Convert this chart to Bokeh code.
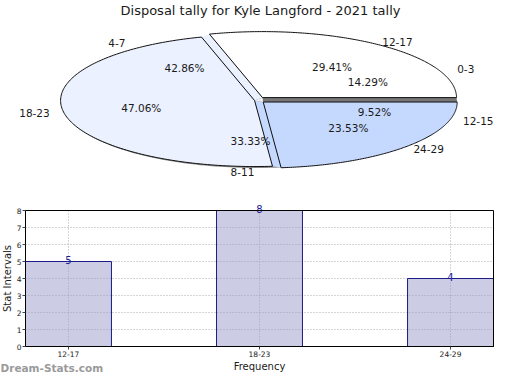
import math
import numpy as np
from bokeh.plotting import figure
from bokeh.models import Range1d, ColumnDataSource, LinearAxis, FixedTicker
from bokeh.embed import file_html
from bokeh.resources import INLINE
from bokeh.core.properties import value

# ---------------- data ----------------
title_text = "Disposal tally for Kyle Langford - 2021 tally"
categories = ["12-17", "18-23", "24-29"]
counts = [5, 8, 4]
second_categories = ["0-3", "4-7", "8-11", "12-15"]
second_counts = [3, 9, 7, 2]
y_tick_values = [0, 1, 2, 3, 4, 5, 6, 7, 8]
x_axis_title = "Frequency"
y_axis_title = "Stat Intervals"
watermark = "Dream-Stats.com"

# ---------------- style / layout ----------------
slice_colors = ["#FFFFFF", "#EBF1FE", "#C5D8FE"]
FONT = "DejaVu Sans"
TXT = "#1a1a1a"
W, H = 504, 374

# pie geometry (page pixels)
CX, CY, RX, RY = 259.0, 99.5, 194.0, 66.0
EX, EY = 5.0, 3.0

# bar-chart box (page pixels)
BOX_L, BOX_R, BOX_T, BOX_B = 25.0, 493.0, 210.0, 346.0
BAR_W = 0.45

p = figure(width=W, height=H, x_range=Range1d(0, W), y_range=Range1d(H, 0),
           x_axis_location=None, y_axis_location=None, toolbar_location=None,
           output_backend="svg", min_border=0)
p.grid.visible = False
p.outline_line_color = None


def angles(vals):
    fr = np.array(vals, dtype=float) / float(sum(vals))
    ends = np.cumsum(fr) * 2 * np.pi
    starts = ends - fr * 2 * np.pi
    return starts, ends, fr


def pt(cx, cy, a):
    return cx + RX * np.cos(a), cy - RY * np.sin(a)


# ---------------- pie ----------------
t = np.linspace(0, 2 * np.pi, 240)
p.patch(CX - 3 + RX * np.cos(t), CY + 2 + RY * np.sin(t), fill_color="#8a8a8a", line_color=None)

starts, ends, fr = angles(counts)
mids = (starts + ends) / 2
centers = [(CX + EX * np.cos(m), CY - EY * np.sin(m)) for m in mids]
n = len(counts)

gx, gy, gc = [], [], []
for k in range(n):
    j = (k - 1) % n
    th = starts[k]
    (xj, yj), (xk, yk) = centers[j], centers[k]
    ax, ay = pt(xj, yj, th)
    bx, by = pt(xk, yk, th)
    gx.append([xj, float(ax), float(bx), xk])
    gy.append([yj, float(ay), float(by), yk])
    gc.append(slice_colors[k] if k > 0 else "#777777")
p.patches(gx, gy, fill_color=gc, line_color=None)
p.patch([c[0] for c in centers], [c[1] for c in centers], fill_color="#EEEEEE", line_color=None)

sx, sy = [], []
for i in range(n):
    a = np.linspace(starts[i], ends[i], 150)
    cx, cy = centers[i]
    px, py = pt(cx, cy, a)
    sx.append([cx] + list(px) + [cx])
    sy.append([cy] + list(py) + [cy])
p.patches(sx, sy, fill_color=slice_colors, line_color="#111111", line_width=1)

lx, ly, lt = [], [], []
for cats, vals in ((categories, counts), (second_categories, second_counts)):
    s, e, f = angles(vals)
    m = (s + e) / 2
    for c, mm, ff in zip(cats, m, f):
        lx.append(CX + 1.18 * RX * math.cos(mm))
        ly.append(CY - 1.1 * RY * math.sin(mm))
        lt.append(c)
        lx.append(CX + 0.62 * RX * math.cos(mm))
        ly.append(CY - 0.62 * RY * math.sin(mm))
        lt.append(f"{100 * ff:.2f}%")
p.text(x="x", y="y", text="text", source=ColumnDataSource(dict(x=lx, y=ly, text=lt)),
       text_font=value(FONT), text_font_size="10.5px", text_align="center",
       text_baseline="middle", text_color=TXT)

p.text(x=[W / 2 + 8], y=[10], text=[title_text], text_font=value(FONT), text_font_size="13px",
       text_align="center", text_baseline="middle", text_color=TXT)

# ---------------- bar chart (own ranges mapped onto the box) ----------------
xpos = list(range(len(categories)))
x_lo, x_hi = xpos[0] - BAR_W / 2, xpos[-1] + BAR_W / 2
ppx = (BOX_R - BOX_L) / (x_hi - x_lo)
y_lo, y_hi = y_tick_values[0], y_tick_values[-1]
ppy = (BOX_B - BOX_T) / (y_hi - y_lo)
p.extra_x_ranges = {"bx": Range1d(x_lo - BOX_L / ppx, x_lo + (W - BOX_L) / ppx)}
p.extra_y_ranges = {"by": Range1d(y_lo - (H - BOX_B) / ppy, y_hi + BOX_T / ppy)}
R = dict(x_range_name="bx", y_range_name="by")

# dotted grid
inner = y_tick_values[1:-1]
p.segment(x0=[x_lo] * len(inner), x1=[x_hi] * len(inner), y0=inner, y1=inner,
          line_color="#aaaaaa", line_dash="1 2", line_width=1, **R)
p.segment(x0=xpos, x1=xpos, y0=[y_lo] * len(xpos), y1=[y_hi] * len(xpos),
          line_color="#aaaaaa", line_dash="1 2", line_width=1, **R)

src = ColumnDataSource(dict(x=xpos, top=counts, label=[str(c) for c in counts]))
p.vbar(x="x", top="top", width=BAR_W, source=src, fill_color="#9999CC", fill_alpha=0.5,
       line_color="#1C1C84", line_width=1, **R)
p.text(x="x", y="top", text="label", source=src, text_align="center", text_baseline="bottom",
       text_font=value(FONT), text_font_size="10px", text_color="#1C1C99", y_offset=2, **R)

p.quad(left=[x_lo], right=[x_hi], bottom=[y_lo], top=[y_hi], fill_color=None,
       line_color="black", line_width=1, **R)

xax = LinearAxis(fixed_location=y_lo, bounds=(x_lo, x_hi), ticker=FixedTicker(ticks=xpos),
                 major_label_overrides={i: c for i, c in enumerate(categories)},
                 axis_label=x_axis_title, **R)
yax = LinearAxis(fixed_location=x_lo, bounds=(y_lo, y_hi), ticker=FixedTicker(ticks=y_tick_values),
                 axis_label=y_axis_title, **R)
for ax in (xax, yax):
    ax.axis_line_color = "black"
    ax.major_tick_line_color = "#444444"
    ax.major_tick_out = 3
    ax.major_tick_in = 0
    ax.minor_tick_line_color = None
    ax.major_label_text_font = FONT
    ax.major_label_text_font_size = "7.5px"
    ax.major_label_text_color = TXT
    ax.major_label_standoff = 1
    ax.axis_label_text_font = FONT
    ax.axis_label_text_font_size = "10px"
    ax.axis_label_text_font_style = "normal"
    ax.axis_label_text_color = TXT
    ax.axis_label_standoff = 1
p.add_layout(xax, "below")
p.add_layout(yax, "left")

p.text(x=[0], y=[H - 1], text=[watermark], text_align="left", text_baseline="bottom",
       text_font=value(FONT), text_font_size="10.5px", text_font_style="bold", text_color="#9a9a9a")

open("out.html", "w").write(file_html(p, INLINE))
